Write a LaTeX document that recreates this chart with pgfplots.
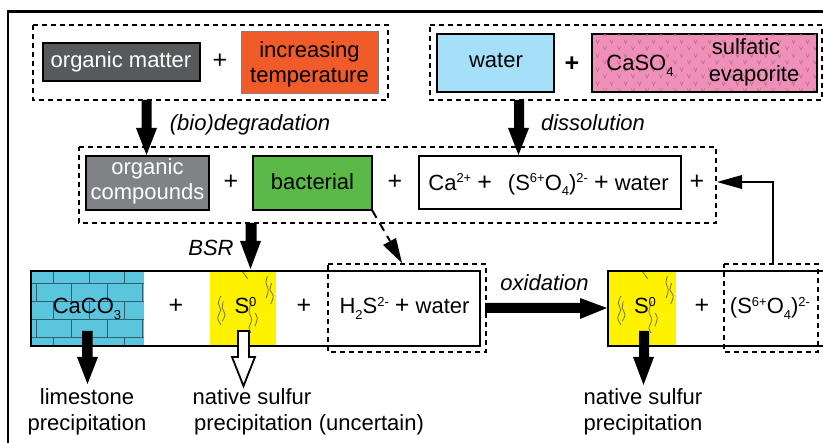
\documentclass[border=0pt]{standalone}
\usepackage{pgfplots}
\pgfplotsset{compat=1.18}
\usepackage{fontspec}
\setmainfont{Liberation Sans}
\usetikzlibrary{patterns}
\definecolor{omgray}{HTML}{58595B}
\definecolor{ocgray}{HTML}{808285}
\definecolor{temp}{HTML}{F15A29}
\definecolor{wat}{HTML}{A6DFF8}
\definecolor{pinkb}{HTML}{F08FB8}
\definecolor{veec}{HTML}{A9708F}
\definecolor{bact}{HTML}{5BB947}
\definecolor{lime}{HTML}{5BC5DE}
\definecolor{brick}{HTML}{2E5F6C}
\definecolor{sulf}{HTML}{FFF200}
\definecolor{squig}{HTML}{77722C}
\pgfdeclarepatternformonly{vees}{\pgfqpoint{0pt}{0pt}}{\pgfqpoint{14pt}{14pt}}{\pgfqpoint{14pt}{14pt}}{%
  \pgfsetlinewidth{0.6pt}%
  \pgfpathmoveto{\pgfqpoint{1.5pt}{5pt}}\pgfpathlineto{\pgfqpoint{3.2pt}{1pt}}\pgfpathlineto{\pgfqpoint{5pt}{5pt}}%
  \pgfpathmoveto{\pgfqpoint{8.5pt}{12pt}}\pgfpathlineto{\pgfqpoint{10.2pt}{8pt}}\pgfpathlineto{\pgfqpoint{12pt}{12pt}}%
  \pgfusepath{stroke}}
\newcommand{\fs}{\fontsize{22}{26}\selectfont}
\newcommand{\sbs}[1]{\raisebox{-5.5pt}{\fontsize{13}{13}\selectfont #1}}
\newcommand{\sps}[1]{\raisebox{7.5pt}{\fontsize{13}{13}\selectfont #1}}
\newcommand{\bp}{{\fontsize{25}{26}\selectfont +}}
% x1 y1 x2 y2 options
\newcommand{\rect}[5]{\addplot[#5] coordinates {(#1,#2) (#3,#2) (#3,#4) (#1,#4)} --cycle;}
\newcommand{\dbox}[4]{\addplot[black,line width=2.2pt,dash pattern=on 5pt off 4pt] coordinates {(#1,#2) (#3,#2) (#3,#4) (#1,#4)} --cycle;}
% x of stem left, stem right, head left, head right, y top, y head, y tip
\newcommand{\darrow}[8]{\addplot[#8] coordinates {(#1,#5) (#2,#5) (#2,#6) (#4,#6) ({(#3+#4)/2},#7) (#3,#6) (#1,#6)} --cycle;}
\newcommand{\T}[4][]{\node[anchor=base,inner sep=0pt,#1] at (axis cs:#2,#3) {\fs #4};}
\newcommand{\squigs}[1]{%
  \pgfplotsset{sq/.style={smooth,squig,line width=0.8pt,x filter/.expression={x+#1}}}%
  \addplot[sq] coordinates {(221,296) (218.3,303) (220.7,309.7) (217.7,318) (221,324.7)};
  \addplot[sq] coordinates {(223.3,301.3) (222.3,308) (225,314.7) (222.3,321.3)};
  \addplot[sq] coordinates {(267.3,276.3) (266,283) (268.3,289.7) (266.3,298)};
  \addplot[sq] coordinates {(271.7,283) (270,289.7) (273.3,296.3) (270.7,304)};
  \addplot[sq] coordinates {(251.7,301.3) (249,311.3) (251.7,319.7) (249,328) (251,333)};
  \addplot[sq] coordinates {(255,313) (257.3,318) (255,326.3)};
  \addplot[sq] coordinates {(242.7,272) (247.7,278.7)};
}
\begin{document}
\begin{tikzpicture}[x=1pt,y=1pt]
\useasboundingbox (0,0) rectangle (823pt,443pt);
\begin{axis}[
  at={(0,0)},anchor=south west,
  scale only axis,width=823pt,height=443pt,
  xmin=0,xmax=823,ymin=0,ymax=443,y dir=reverse,
  hide axis,clip=false,no markers]
% outer frame
\addplot[black,line width=2.2pt] coordinates {(8,443) (8,11.5) (823,11.5)};
% first row dashed groups
\dbox{33}{25}{388}{100}
\dbox{430}{25}{822}{100}
\rect{43}{43}{200}{81}{fill=omgray,draw=black,line width=2.2pt}
\rect{241}{32}{378}{94}{fill=temp,draw=gray,line width=1pt}
\rect{437}{34}{554}{92}{fill=wat,draw=black,line width=2.2pt}
\rect{592}{34}{817}{92}{fill=pinkb,draw=black,line width=2.2pt}
\rect{593}{35}{816}{91}{draw=none,pattern=vees,pattern color=veec}
% arrows top
\darrow{141.5}{151.5}{136}{157}{100}{128}{155}{fill=black,draw=none}
\darrow{514}{524}{508}{529}{100}{128}{155}{fill=black,draw=none}
% second row
\dbox{79}{147}{716}{223}
\rect{86}{156}{209}{210}{fill=ocgray,draw=black,line width=2.2pt}
\rect{253}{156}{372}{210}{fill=bact,draw=black,line width=2.2pt}
\rect{419}{156}{681}{209}{fill=white,draw=black,line width=2.2pt}
% BSR arrow
\darrow{245.5}{256.5}{240}{261}{223}{241}{269}{fill=black,draw=none}
% dashed arrow
\addplot[black,line width=2pt,dash pattern=on 9pt off 6pt] coordinates {(372,210) (390,241)};
\addplot[fill=black,draw=none] coordinates {(402,263) (383,245) (396,238)} --cycle;
% thin return arrow
\addplot[black,line width=2.2pt] coordinates {(773,264) (773,182) (740,182)};
\addplot[fill=black,draw=none] coordinates {(717,182) (742,175) (742,189)} --cycle;
% third row, left
\rect{31}{271}{144}{346}{fill=lime,draw=none}
\addplot[brick,line width=0.8pt] coordinates {(31,283.3) (144,283.3)};
\addplot[brick,line width=0.8pt] coordinates {(31,301.7) (144,301.7)};
\addplot[brick,line width=0.8pt] coordinates {(31,319.3) (144,319.3)};
\addplot[brick,line width=0.8pt] coordinates {(31,337.7) (144,337.7)};
\addplot[brick,line width=0.8pt] coordinates {(53,271) (53,283.3)};
\addplot[brick,line width=0.8pt] coordinates {(89,271) (89,283.3)};
\addplot[brick,line width=0.8pt] coordinates {(124,271) (124,283.3)};
\addplot[brick,line width=0.8pt] coordinates {(36,283.3) (36,301.7)};
\addplot[brick,line width=0.8pt] coordinates {(71,283.3) (71,301.7)};
\addplot[brick,line width=0.8pt] coordinates {(107,283.3) (107,301.7)};
\addplot[brick,line width=0.8pt] coordinates {(142,283.3) (142,301.7)};
\addplot[brick,line width=0.8pt] coordinates {(53,301.7) (53,319.3)};
\addplot[brick,line width=0.8pt] coordinates {(89,301.7) (89,319.3)};
\addplot[brick,line width=0.8pt] coordinates {(124,301.7) (124,319.3)};
\addplot[brick,line width=0.8pt] coordinates {(36,319.3) (36,337.7)};
\addplot[brick,line width=0.8pt] coordinates {(71,319.3) (71,337.7)};
\addplot[brick,line width=0.8pt] coordinates {(107,319.3) (107,337.7)};
\addplot[brick,line width=0.8pt] coordinates {(142,319.3) (142,337.7)};
\addplot[brick,line width=0.8pt] coordinates {(53,337.7) (53,346)};
\addplot[brick,line width=0.8pt] coordinates {(89,337.7) (89,346)};
\addplot[brick,line width=0.8pt] coordinates {(124,337.7) (124,346)};
\rect{210}{271}{276}{346}{fill=sulf,draw=none}
\squigs{0}
\rect{31}{271}{480}{346}{draw=black,line width=2.4pt}
\dbox{328}{264}{486}{352}
% third row, right
\rect{608}{271}{676}{346}{fill=sulf,draw=none}
\squigs{400}
\addplot[black,line width=2.4pt] coordinates {(823,271) (608,271) (608,346) (823,346)};
\dbox{724}{264}{818}{352}
% oxidation
\addplot[fill=black,draw=none] coordinates {(485,303) (580,303) (580,298) (607,308) (580,319) (580,313) (485,313)} --cycle;
% down arrows
\darrow{82}{92.5}{77}{98}{331}{357}{384}{fill=black,draw=none}
\darrow{238}{249}{232}{255}{331}{357}{386}{fill=white,draw=black,line width=1.8pt}
\darrow{639}{649}{633}{654}{331}{357}{385}{fill=black,draw=none}
% text
\T[text=white]{121}{68}{organic matter}
\T{220}{69}{\bp}
\T{309.5}{58}{increasing}
\T{309.5}{83}{temperature}
\T{496}{68}{water}
\T{572}{72}{\bfseries\bp}
\T{640}{71}{CaSO\sbs{4}}
\T{746}{55}{sulfatic}
\T{754}{82}{evaporite}
\T{250}{131}{\itshape (bio)degradation}
\T{593}{131}{\itshape dissolution}
\T[text=white]{147.5}{175}{organic}
\T[text=white]{147.5}{200}{compounds}
\T{231}{190}{\bp}
\T{312.5}{190}{bacterial}
\T{395}{190}{\bp}
\T{548.5}{190.5}{Ca\sps{2+} \bp\;\, (S\sps{6+}O\sbs{4})\sps{2-} \bp{} water}
\T{697}{190}{\bp}
\T{211}{256}{\itshape BSR}
\T{87}{314}{CaCO\sbs{3}}
\T{176}{314}{\bp}
\T{245.5}{314}{S\sps{0}}
\T{304}{314}{\bp}
\T{404.5}{314}{H\sbs{2}S\sps{2-} \bp{} water}
\T{544.5}{291}{\itshape oxidation}
\T{645}{314}{S\sps{0}}
\T{702}{314}{\bp}
\T{770}{314}{(S\sps{6+}O\sbs{4})\sps{2-}}
\T{87}{405}{limestone}
\T{87}{431}{precipitation}
\T{252}{405}{native sulfur}
\T{309}{431}{precipitation (uncertain)}
\T{643}{405}{native sulfur}
\T{643}{431}{precipitation}
\end{axis}
\end{tikzpicture}
\end{document}
